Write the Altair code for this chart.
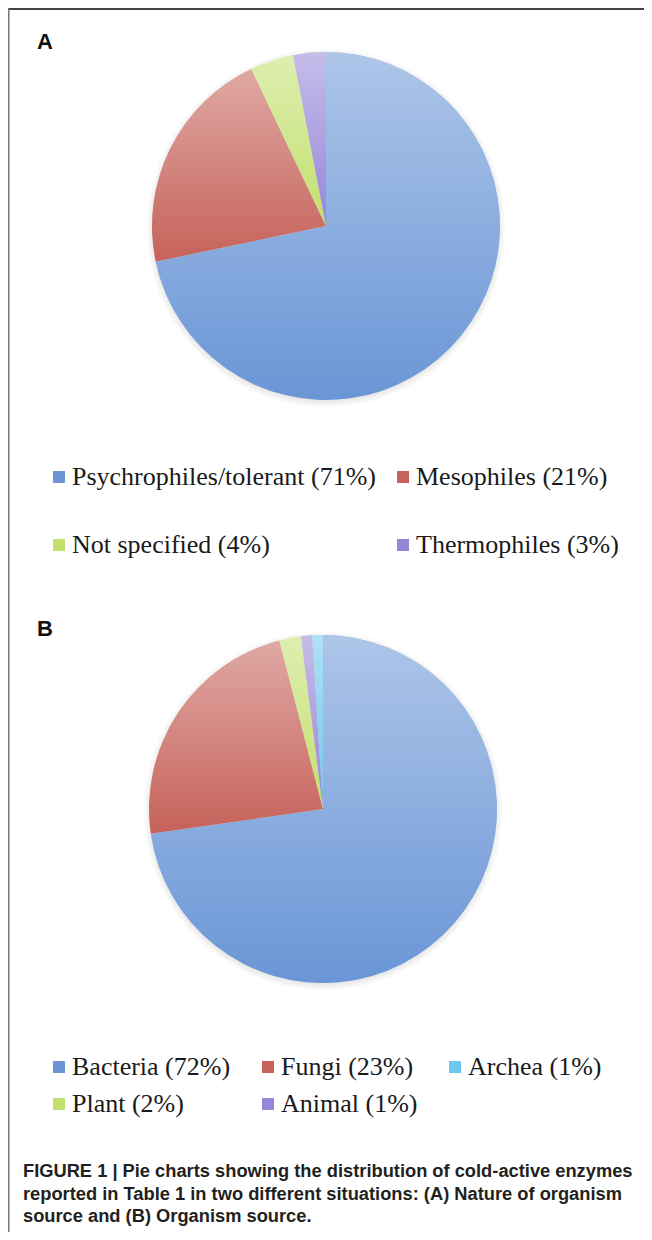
import altair as alt
import pandas as pd

# ---- data ----
cats_a = ["Psychrophiles/tolerant (71%)", "Mesophiles (21%)", "Not specified (4%)", "Thermophiles (3%)"]
vals_a = [71, 21, 4, 3]
order_a = [0, 1, 2, 3]
colors_a = ["#6A96D6", "#C6625A", "#C3E06E", "#9686D8"]
# legend is filled column by column
legend_a = ["Psychrophiles/tolerant (71%)", "Not specified (4%)", "Mesophiles (21%)", "Thermophiles (3%)"]

cats_b = ["Bacteria (72%)", "Fungi (23%)", "Archea (1%)", "Plant (2%)", "Animal (1%)"]
vals_b = [72, 23, 1, 2, 1]
order_b = [0, 1, 4, 2, 3]
colors_b = ["#6A96D6", "#C6625A", "#6CC8EC", "#C3E06E", "#9686D8"]
legend_b = ["Bacteria (72%)", "Plant (2%)", "Fungi (23%)", "Animal (1%)", "Archea (1%)"]

caption_lines = [
    "FIGURE 1 | Pie charts showing the distribution of cold-active enzymes",
    "reported in Table 1 in two different situations: (A) Nature of organism",
    "source and (B) Organism source.",
]

W, H = 636, 1224
R = 174

df_a = pd.DataFrame({"cat": cats_a, "val": vals_a, "ord": order_a})
df_b = pd.DataFrame({"cat": cats_b, "val": vals_b, "ord": order_b})

shine = alt.LinearGradient(
    gradient="linear", x1=0, y1=0, x2=0, y2=1,
    stops=[alt.GradientStop(color="rgba(255,255,255,0.45)", offset=0),
           alt.GradientStop(color="rgba(255,255,255,0.0)", offset=1)],
)

HALO = 6
halo_fill = alt.RadialGradient(
    gradient="radial", x1=0.5, y1=0.5, r1=0, x2=0.5, y2=0.5, r2=0.5,
    stops=[alt.GradientStop(color="rgba(90,90,90,0.22)", offset=0.94),
           alt.GradientStop(color="rgba(120,120,120,0.0)", offset=1)],
)


def pie(df, cats, colors, legend_order, cx, cy, lx, ly, cols, colpad, rowpad):
    cmap = dict(zip(cats, colors))
    halo = alt.Chart(alt.Data(values=[{"h": 1}])).mark_arc(
        radius=R + HALO, theta=0, theta2=6.2832, fill=halo_fill, stroke=None
    ).encode(x=alt.value(cx), y=alt.value(cy + 2))
    base = alt.Chart(df).mark_arc(radius=R, stroke=None).encode(
        theta=alt.Theta("val:Q", stack=True),
        order=alt.Order("ord:Q"),
        color=alt.Color(
            "cat:N",
            scale=alt.Scale(domain=legend_order, range=[cmap[c] for c in legend_order]),
            legend=alt.Legend(
                orient="none", legendX=lx, legendY=ly, title=None,
                columns=cols, columnPadding=colpad, rowPadding=rowpad,
                symbolType="square", symbolSize=144, symbolStrokeWidth=0,
                symbolOpacity=1, labelFont="Liberation Serif", labelFontSize=26,
                labelColor="#1a1a1a", labelOffset=0, labelLimit=500, padding=0,
            ),
        ),
        x=alt.value(cx), y=alt.value(cy),
    )
    over = alt.Chart(df).mark_arc(radius=R, fill=shine, stroke=None).encode(
        theta=alt.Theta("val:Q", stack=True),
        order=alt.Order("ord:Q"),
        detail="cat:N",
        x=alt.value(cx), y=alt.value(cy),
    )
    return alt.layer(halo, base, over)


pie_a = pie(df_a, cats_a, colors_a, legend_a, 318, 218, 38, 456, 2, 14, 42)
pie_b = pie(df_b, cats_b, colors_b, legend_b, 315, 801, 38, 1046, 3, 24, 11)

one = alt.Data(values=[{"a": 1}])

border_top = alt.Chart(one).mark_rule(color="#444444", strokeWidth=2).encode(
    x=alt.value(0), x2=alt.value(W), y=alt.value(1))
border_left = alt.Chart(one).mark_rule(color="#777777", strokeWidth=2).encode(
    x=alt.value(0.5), y=alt.value(0), y2=alt.value(H))

lab_a = alt.Chart(alt.Data(values=[{"t": "A"}])).mark_text(
    font="Liberation Sans", fontWeight="bold", fontSize=22, align="left",
    baseline="alphabetic", color="#111111").encode(
    text="t:N", x=alt.value(29), y=alt.value(41))
lab_b = alt.Chart(alt.Data(values=[{"t": "B"}])).mark_text(
    font="Liberation Sans", fontWeight="bold", fontSize=22, align="left",
    baseline="alphabetic", color="#111111").encode(
    text="t:N", x=alt.value(29), y=alt.value(628))

caption = alt.Chart(alt.Data(values=[{"t": "\n".join(caption_lines)}])).mark_text(
    font="Liberation Sans", fontWeight="bold", fontSize=18.3, align="left",
    baseline="alphabetic", color="#231f20", lineBreak="\n", lineHeight=22.7).encode(
    text="t:N", x=alt.value(15), y=alt.value(1169))

chart = alt.layer(
    pie_a, pie_b, border_top, border_left, lab_a, lab_b, caption
).resolve_scale(
    color="independent", theta="independent"
).properties(
    width=W, height=H, padding=0,
    autosize=alt.AutoSizeParams(type="none"),
).configure_view(stroke=None)

chart.save("out.html", embed_options={"renderer": "svg", "actions": False})
